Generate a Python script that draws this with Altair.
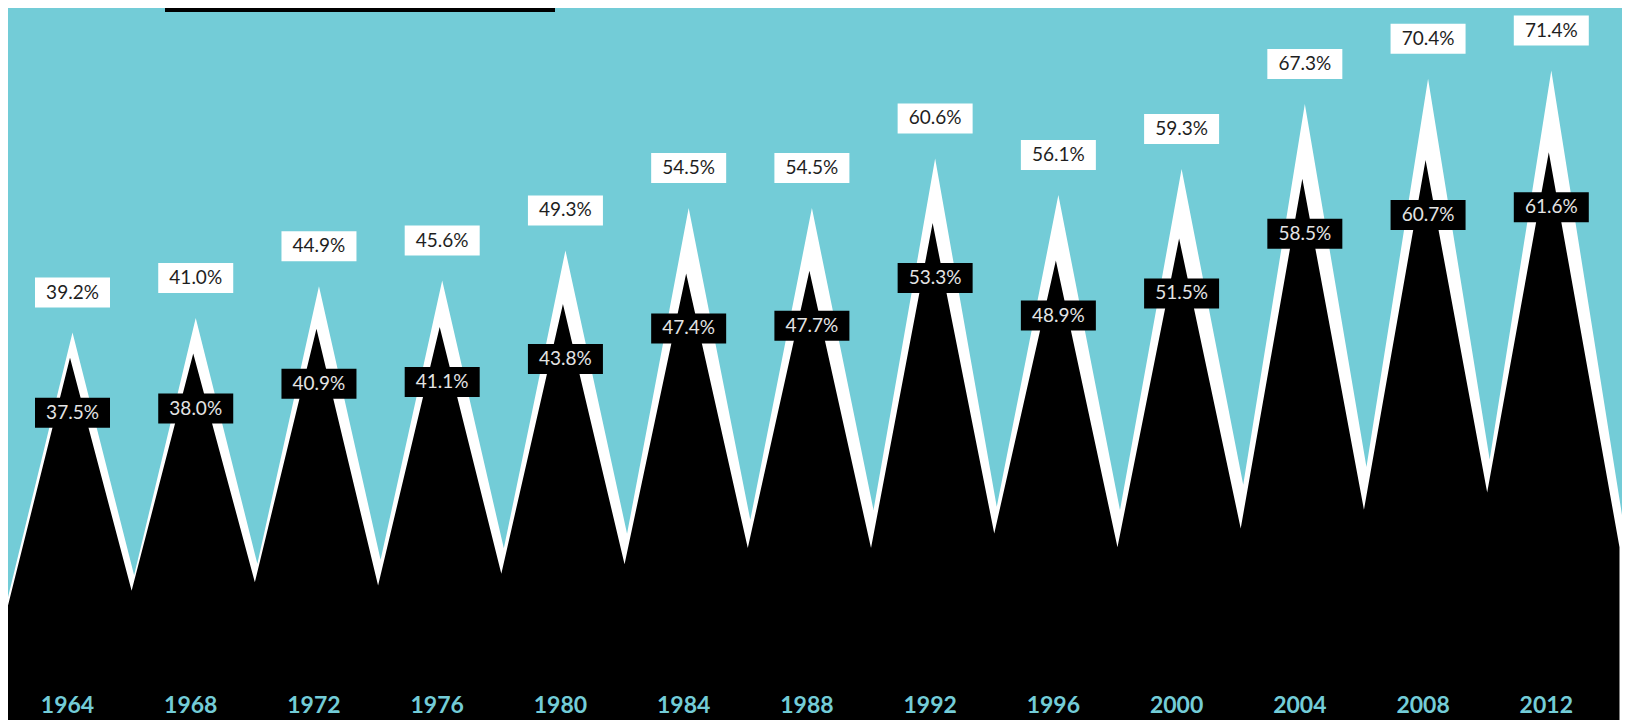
import altair as alt
import pandas as pd

# ---- data ----
pres_years = [1964, 1968, 1972, 1976, 1980, 1984, 1988, 1992, 1996, 2000, 2004, 2008, 2012]
white_pct = [39.2, 41.0, 44.9, 45.6, 49.3, 54.5, 54.5, 60.6, 56.1, 59.3, 67.3, 70.4, 71.4]
black_pct = [37.5, 38.0, 40.9, 41.1, 43.8, 47.4, 47.7, 53.3, 48.9, 51.5, 58.5, 60.7, 61.6]

# unlabeled in-between (valley) points
mid_years = [1962, 1966, 1970, 1974, 1978, 1982, 1986, 1990, 1994, 1998, 2002, 2006, 2010, 2014]
white_mid = [6.7, 9.4, 10.8, 11.3, 12.7, 14.5, 16.2, 17.4, 17.8, 17.4, 20.5, 22.7, 23.6, 16.8]
black_mid = [7.3, 10.2, 11.2, 10.8, 12.2, 13.3, 15.2, 15.2, 16.9, 15.3, 17.5, 19.7, 21.7, 15.3]

TEAL = "#73CCD7"
FONT = "Lato"
W, H = 1614, 712

def series(peaks, mids):
    rows = [{"year": y, "value": v} for y, v in zip(pres_years, peaks)]
    rows += [{"year": y, "value": v} for y, v in zip(mid_years, mids)]
    return pd.DataFrame(rows).sort_values("year")

white_df = series(white_pct, white_mid)
black_df = series(black_pct, black_mid)
labels_df = pd.DataFrame({
    "year": pres_years,
    "white": white_pct,
    "black": black_pct,
    "white_lbl": [f"{v:.1f}%" for v in white_pct],
    "black_lbl": [f"{v:.1f}%" for v in black_pct],
    "year_lbl": [str(y) for y in pres_years],
})

x_dom = [1962, 1964, 2012, 2014]
xs_w = alt.Scale(domain=x_dom, range=[0, 64.5, 1543.3, W])
xs_b = alt.Scale(domain=x_dom, range=[-2.5, 62.0, 1540.8, W - 2.5])
YW = [-8.391, 79.079]
YB = [-4.959, 78.511]
ys_w = alt.Scale(domain=YW, range=[H, 0], zero=False, nice=False)
ys_b = alt.Scale(domain=YB, range=[H, 0], zero=False, nice=False)

white_area = alt.Chart(white_df).mark_area(color="white", interpolate="linear").encode(
    x=alt.X("year:Q", scale=xs_w, axis=None),
    y=alt.Y("value:Q", scale=ys_w, axis=None),
    y2=alt.datum(YW[0]),
)
black_area = alt.Chart(black_df).mark_area(color="black", interpolate="linear").encode(
    x=alt.X("year:Q", scale=xs_b, axis=None),
    y=alt.Y("value:Q", scale=ys_b, axis=None),
    y2=alt.datum(YB[0]),
)

base = alt.Chart(labels_df)
white_box = base.mark_rect(color="white", xOffset=-37.5, x2Offset=37.5, yOffset=-55, y2Offset=-25).encode(
    x=alt.X("year:Q", scale=xs_w, axis=None), x2="year:Q",
    y=alt.Y("white:Q", scale=ys_w, axis=None), y2="white:Q",
)
white_txt = base.mark_text(color="#1e1e1e", font=FONT, fontSize=19, baseline="middle", align="center", dy=-40).encode(
    x=alt.X("year:Q", scale=xs_w, axis=None),
    y=alt.Y("white:Q", scale=ys_w, axis=None),
    text="white_lbl:N",
)
black_box = base.mark_rect(color="black", xOffset=-37.5, x2Offset=37.5, yOffset=40, y2Offset=70).encode(
    x=alt.X("year:Q", scale=xs_w, axis=None), x2="year:Q",
    y=alt.Y("black:Q", scale=ys_b, axis=None), y2="black:Q",
)
black_txt = base.mark_text(color="#e4e4e4", font=FONT, fontSize=19, baseline="middle", align="center", dy=55).encode(
    x=alt.X("year:Q", scale=xs_w, axis=None),
    y=alt.Y("black:Q", scale=ys_b, axis=None),
    text="black_lbl:N",
)
year_txt = base.mark_text(color=TEAL, font=FONT, fontSize=23, fontWeight="bold", baseline="alphabetic", align="center", dx=-5).encode(
    x=alt.X("year:Q", scale=xs_w, axis=None),
    y=alt.value(705),
    text="year_lbl:N",
)
top_bar = alt.Chart(alt.Data(values=[{"k": 1}])).mark_rect(color="black").encode(
    x=alt.value(157), x2=alt.value(547), y=alt.value(0), y2=alt.value(4)
)

chart = alt.layer(
    white_area, black_area, white_box, white_txt, black_box, black_txt, year_txt, top_bar
).resolve_scale(x="independent", y="independent").properties(
    width=W, height=H, background=TEAL, padding=0,
    autosize=alt.AutoSizeParams(type="none"),
).configure_view(stroke=None)

chart.save("out.html", embed_options={"renderer": "svg", "actions": False})
